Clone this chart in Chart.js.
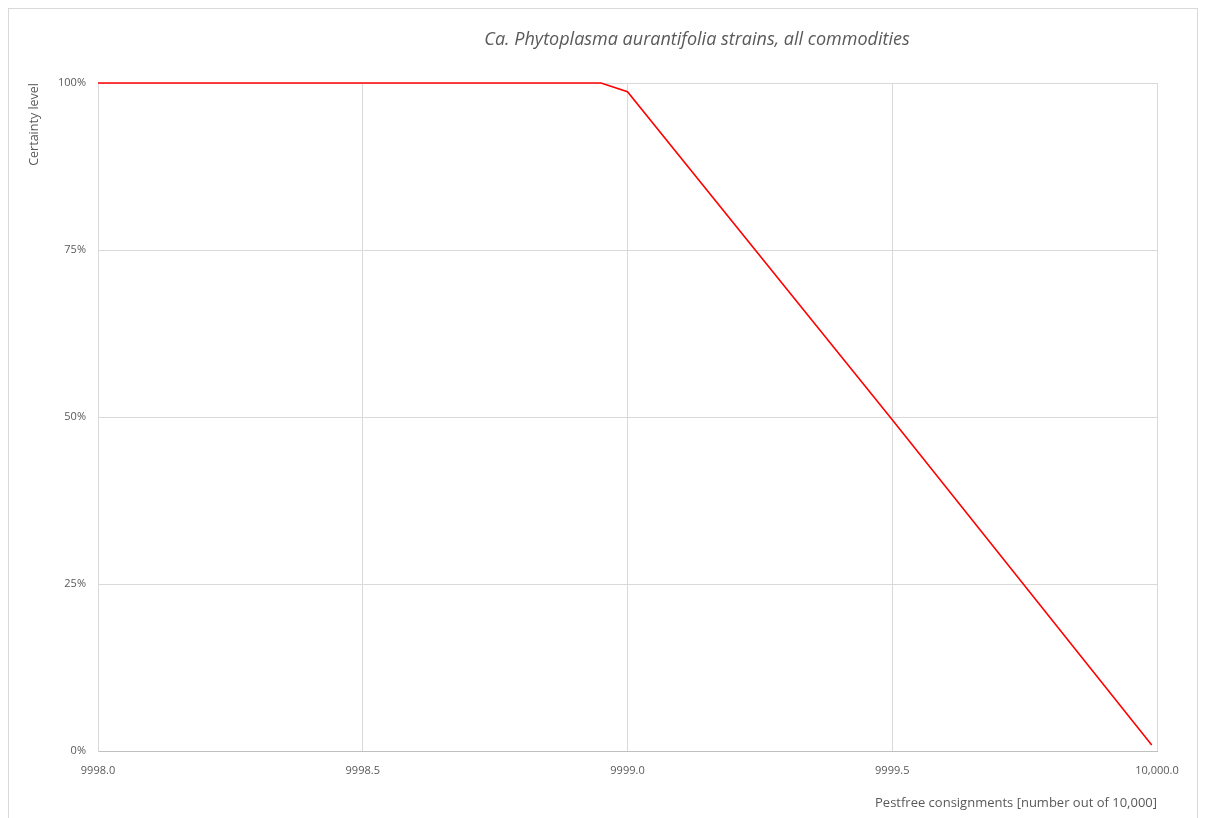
<!DOCTYPE html>
<html>
<head>
<meta charset="utf-8">
<script src="https://cdn.jsdelivr.net/npm/chart.js@4.4.1/dist/chart.umd.min.js"></script>
<style>
  html, body { margin: 0; padding: 0; background: #fff; overflow: hidden; }
  #wrap { position: absolute; left: 8px; top: 8px; width: 1190px; height: 830px; border: 1px solid #d9d9d9; box-sizing: border-box; }
  #chart { display: block; }
</style>
</head>
<body>
<div id="wrap"><canvas id="chart" width="1188" height="820"></canvas></div>
<script>
// --- datos ---
const titulo = 'Ca. Phytoplasma aurantifolia strains, all commodities';
const consignments = [9998.0, 9998.5, 9998.95, 9999.0, 9999.5, 9999.99];
const certainty = [100, 100, 100, 98.7, 49.6, 0.9];
const xTicks = [9998.0, 9998.5, 9999.0, 9999.5, 10000.0];
const xTickLabels = ['9998.0', '9998.5', '9999.0', '9999.5', '10,000.0'];
const yTicks = [0, 25, 50, 75, 100];
const yTickLabels = ['0%', '25%', '50%', '75%', '100%'];

const gris = '#595959';
const fuente = '"Open Sans", "Liberation Sans", sans-serif';

// titulo dibujado a mano (desplazado como en el original)
const tituloPlugin = {
    id: 'tituloPlugin',
    afterDraw(chart) {
        const { ctx } = chart;
        ctx.save();
        ctx.font = 'italic 18px ' + fuente;
        ctx.fillStyle = gris;
        ctx.textAlign = 'center';
        ctx.textBaseline = 'middle';
        ctx.fillText(titulo, 688, 31);
        ctx.restore();
    }
};

new Chart(document.getElementById('chart'), {
    type: 'scatter',
    data: {
        datasets: [{
            data: consignments.map((x, i) => ({ x: x, y: certainty[i] })),
            showLine: true,
            borderColor: '#ff0000',
            borderWidth: 1.6,
            pointRadius: 0,
            tension: 0,
            clip: 4
        }]
    },
    options: {
        responsive: false,
        animation: false,
        layout: { padding: { top: 74, right: 40, left: 0, bottom: 0 } },
        plugins: { legend: { display: false }, tooltip: { enabled: false }, title: { display: false } },
        scales: {
            x: {
                type: 'linear',
                min: 9998, max: 10000,
                afterBuildTicks: s => { s.ticks = xTicks.map(v => ({ value: v })); },
                afterFit: s => { s.height = 78; },
                ticks: {
                    color: gris, font: { family: fuente, size: 11 }, padding: 13,
                    callback: (v) => xTickLabels[xTicks.indexOf(v)]
                },
                grid: { color: '#d9d9d9', drawTicks: false },
                border: { color: '#bfbfbf' },
                title: {
                    display: true, align: 'end', text: 'Pestfree consignments [number out of 10,000]',
                    color: gris, font: { family: fuente, size: 13 }, padding: { top: 0, bottom: 18 }
                }
            },
            y: {
                min: 0, max: 100,
                afterBuildTicks: s => { s.ticks = yTicks.map(v => ({ value: v })); },
                afterFit: s => { s.width = 89; },
                ticks: {
                    color: gris, font: { family: fuente, size: 11 }, padding: 12,
                    callback: (v) => yTickLabels[yTicks.indexOf(v)]
                },
                grid: { color: '#d9d9d9', drawTicks: false },
                border: { color: '#d9d9d9' },
                title: {
                    display: true, align: 'end', text: 'Certainty level',
                    color: gris, font: { family: fuente, size: 12.5 }, padding: { top: 18, bottom: 0 }
                }
            }
        }
    },
    plugins: [tituloPlugin]
});
</script>
</body>
</html>
